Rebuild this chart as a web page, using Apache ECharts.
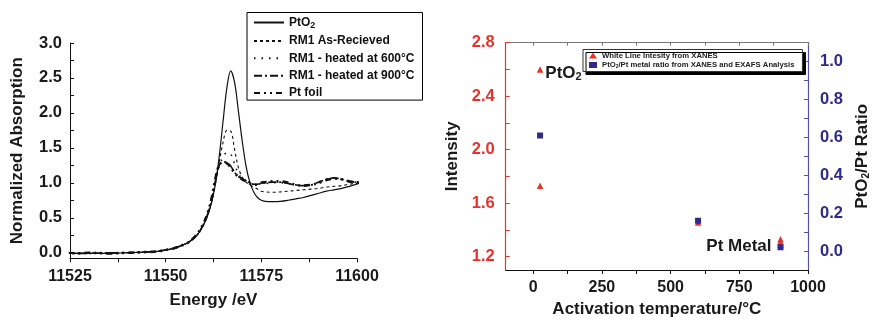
<!DOCTYPE html>
<html>
<head>
<meta charset="utf-8">
<script src="https://cdn.jsdelivr.net/npm/echarts@6/dist/echarts.min.js"></script>
<style>
  html, body { margin: 0; padding: 0; background: #fff; }
  #chart { width: 872px; height: 323px; }
</style>
</head>
<body>
<div id="chart"></div>
<script>
// ---- XANES spectra (left panel) ----
const energy = [11523, 11527, 11530, 11535, 11540, 11545, 11548, 11550, 11552, 11554, 11556, 11558, 11559, 11560, 11561, 11562, 11563, 11564, 11565, 11566, 11567, 11568, 11569, 11570, 11571, 11572, 11573, 11574, 11575, 11576, 11578, 11580, 11582, 11584, 11586, 11588, 11590, 11592, 11594, 11596, 11598, 11601];

const ptO2 = [0.00, -0.01, -0.01, -0.01, 0.00, 0.01, 0.02, 0.04, 0.06, 0.10, 0.15, 0.24, 0.31, 0.41, 0.54, 0.72, 0.98, 1.38, 1.88, 2.36, 2.60, 2.44, 2.03, 1.60, 1.24, 1.01, 0.87, 0.79, 0.75, 0.735, 0.73, 0.735, 0.75, 0.77, 0.79, 0.82, 0.85, 0.88, 0.90, 0.92, 0.95, 1.00];
const rm1Received = [0.00, -0.01, -0.01, -0.01, 0.00, 0.01, 0.02, 0.04, 0.06, 0.10, 0.15, 0.24, 0.31, 0.41, 0.54, 0.72, 0.99, 1.30, 1.58, 1.75, 1.74, 1.48, 1.22, 1.08, 1.01, 0.97, 0.94, 0.91, 0.88, 0.87, 0.865, 0.87, 0.88, 0.89, 0.90, 0.91, 0.92, 0.94, 0.95, 0.96, 0.98, 1.00];
const rm1At600 = [0.00, -0.01, 0.00, -0.01, 0.00, 0.01, 0.02, 0.04, 0.06, 0.10, 0.15, 0.24, 0.31, 0.41, 0.55, 0.74, 1.00, 1.24, 1.37, 1.43, 1.41, 1.27, 1.13, 1.06, 1.03, 1.00, 0.98, 0.98, 0.99, 0.99, 1.00, 1.00, 0.99, 0.97, 0.96, 0.97, 1.00, 1.05, 1.07, 1.05, 1.02, 1.00];
const rm1At900 = [0.00, -0.01, -0.01, 0.00, 0.00, 0.01, 0.02, 0.04, 0.06, 0.10, 0.15, 0.24, 0.32, 0.42, 0.56, 0.76, 1.03, 1.25, 1.30, 1.29, 1.24, 1.15, 1.09, 1.06, 1.03, 1.00, 0.98, 0.98, 0.99, 1.00, 1.01, 1.01, 0.99, 0.97, 0.96, 0.97, 1.01, 1.05, 1.07, 1.05, 1.02, 1.00];
const ptFoil = [0.01, -0.01, 0.00, -0.01, 0.00, 0.01, 0.02, 0.04, 0.06, 0.10, 0.15, 0.25, 0.33, 0.43, 0.57, 0.78, 1.06, 1.26, 1.29, 1.28, 1.22, 1.14, 1.09, 1.05, 1.02, 0.99, 0.97, 0.98, 1.00, 1.01, 1.02, 1.02, 1.00, 0.97, 0.96, 0.97, 1.00, 1.04, 1.06, 1.05, 1.02, 1.00];

const energyTicks = [11525, 11537.5, 11550, 11562.5, 11575, 11587.5, 11600];
const energyLabels = [11525, 11550, 11575, 11600];
const absTicks = [0, 0.25, 0.5, 0.75, 1.0, 1.25, 1.5, 1.75, 2.0, 2.25, 2.5, 2.75, 3.0];
const absLabels = [0, 0.5, 1.0, 1.5, 2.0, 2.5, 3.0];

// ---- Activation series (right panel) ----
const tempIntensity = [25, 25, 600, 900, 900, 900];
const whiteLine = [2.60, 1.73, 1.455, 1.33, 1.31, 1.29];
const tempRatio = [25, 600, 900];
const oxideRatio = [0.61, 0.16, 0.02];

const tempTicks = [0, 125, 250, 375, 500, 625, 750, 875, 1000];
const tempLabels = [0, 250, 500, 750, 1000];
const intensityTicks = [1.2, 1.4, 1.6, 1.8, 2.0, 2.2, 2.4, 2.6, 2.8];
const intensityLabels = [1.2, 1.6, 2.0, 2.4, 2.8];
const ratioTicks = [0, 0.1, 0.2, 0.3, 0.4, 0.5, 0.6, 0.7, 0.8, 0.9, 1.0];
const ratioLabels = [0, 0.2, 0.4, 0.6, 0.8, 1.0];

const RED = '#e5322b';
const BLUE = '#2f2a8c';
const INK = '#1a1a1a';
const FONT = 'Liberation Sans, Arial, sans-serif';

const pair = (xs, ys) => xs.map((x, i) => [x, ys[i]]);

const spectrumNames = ['PtO2', 'RM1 As-Recieved', 'RM1 - heated at 600°C', 'RM1 - heated at 900°C', 'Pt foil'];
const spectrumData = [ptO2, rm1Received, rm1At600, rm1At900, ptFoil];
const spectrumStyles = [
  { width: 1.2, type: 'solid' },
  { width: 1.1, type: [3, 3] },
  { width: 1.6, type: [1.5, 6] },
  { width: 1.6, type: [8, 3, 2, 3] },
  { width: 2.6, type: [6, 4, 2, 4, 2, 4] }
];

const chart = echarts.init(document.getElementById('chart'), null, { renderer: 'canvas' });

const subRich = {
  sub: { fontSize: 9, fontWeight: 'bold', fontFamily: FONT, color: '#111', padding: [7, 0, 0, 0] }
};

chart.setOption({
  animation: false,
  backgroundColor: '#fff',
  textStyle: { fontFamily: FONT },
  grid: [
    { left: 70, top: 43, width: 287, height: 215.3 },
    { left: 505.7, top: 42.7, width: 303.6, height: 229.6 }
  ],
  legend: [
    {
      data: spectrumNames,
      orient: 'vertical',
      left: 247,
      top: 12.5,
      padding: [3, 8, 0, 6],
      itemGap: 3.4,
      itemWidth: 30,
      itemHeight: 12,
      borderColor: '#000',
      borderWidth: 1,
      backgroundColor: '#fff',
      itemStyle: { color: 'transparent', borderColor: 'transparent', borderWidth: 0, opacity: 0 },
      formatter: n => n === 'PtO2' ? 'PtO{sub|2}' : n,
      textStyle: {
        fontSize: 12, fontWeight: 'bold', color: '#111', fontFamily: FONT, lineHeight: 14,
        rich: subRich
      }
    },
    {
      data: ['White Line Intesity from XANES', 'PtO2/Pt metal ratio from XANES and EXAFS Analysis'],
      orient: 'vertical',
      left: 583,
      top: 49.5,
      padding: [2, 8, 2, 6],
      itemGap: 1.5,
      itemWidth: 8,
      itemHeight: 6,
      borderColor: '#333',
      borderWidth: 1,
      backgroundColor: '#fff',
      shadowColor: '#000',
      shadowBlur: 0,
      shadowOffsetX: 3,
      shadowOffsetY: 3,
      formatter: n => n.startsWith('PtO2') ? 'PtO{s|2}' + n.slice(4) : n,
      textStyle: {
        fontSize: 7.7, fontWeight: 'bold', color: '#222', fontFamily: FONT, lineHeight: 8,
        rich: { s: { fontSize: 5, fontWeight: 'bold', color: '#222', padding: [4, 0, 0, 0] } }
      }
    }
  ],
  xAxis: [
    {
      type: 'value', gridIndex: 0, min: 11525, max: 11600,
      axisLine: { show: true, onZero: false, lineStyle: { color: '#111', width: 1 } },
      axisTick: { show: true, inside: false, length: 4, customValues: energyTicks, lineStyle: { color: '#111' } },
      axisLabel: { customValues: energyLabels, formatter: v => String(v), fontSize: 16, fontWeight: 'bold', color: INK, margin: 10 },
      splitLine: { show: false },
      name: 'Energy /eV', nameLocation: 'middle', nameGap: 34,
      nameTextStyle: { fontSize: 17, fontWeight: 'bold', color: INK }
    },
    {
      type: 'value', gridIndex: 1, min: -100, max: 1000, position: 'bottom',
      axisLine: { show: true, onZero: false, lineStyle: { color: '#111', width: 1 } },
      axisTick: { show: true, inside: false, length: 4, customValues: tempTicks, lineStyle: { color: '#111' } },
      axisLabel: { customValues: tempLabels, formatter: v => String(v), fontSize: 16, fontWeight: 'bold', color: INK, margin: 10 },
      splitLine: { show: false },
      name: 'Activation temperature/°C', nameLocation: 'middle', nameGap: 31,
      nameTextStyle: { fontSize: 17, fontWeight: 'bold', color: INK }
    },
    {
      type: 'value', gridIndex: 1, min: -100, max: 1000, position: 'top',
      axisLine: { show: true, onZero: false, lineStyle: { color: '#777', width: 1 } },
      axisTick: { show: true, inside: true, length: 3, customValues: tempTicks, lineStyle: { color: '#777' } },
      axisLabel: { show: false },
      splitLine: { show: false }
    }
  ],
  yAxis: [
    {
      type: 'value', gridIndex: 0, min: -0.08, max: 3.0,
      axisLine: { show: true, onZero: false, lineStyle: { color: '#111', width: 1 } },
      axisTick: { show: true, inside: true, length: 4, customValues: absTicks, lineStyle: { color: '#111' } },
      axisLabel: { customValues: absLabels, formatter: v => v.toFixed(1), fontSize: 16.5, fontWeight: 'bold', color: INK, margin: 8 },
      splitLine: { show: false },
      name: 'Normalized Absorption', nameLocation: 'middle', nameGap: 44,
      nameTextStyle: { fontSize: 17, fontWeight: 'bold', color: INK }
    },
    {
      type: 'value', gridIndex: 1, min: 1.1, max: 2.8, position: 'left',
      axisLine: { show: true, onZero: false, lineStyle: { color: RED, width: 1.2 } },
      axisTick: { show: true, inside: true, length: 4, customValues: intensityTicks, lineStyle: { color: RED } },
      axisLabel: { customValues: intensityLabels, formatter: v => v.toFixed(1), fontSize: 16.5, fontWeight: 'bold', color: RED, margin: 11 },
      splitLine: { show: false },
      name: 'Intensity', nameLocation: 'middle', nameGap: 45,
      nameTextStyle: { fontSize: 17, fontWeight: 'bold', color: INK }
    },
    {
      type: 'value', gridIndex: 1, min: -0.1, max: 1.1, position: 'right',
      axisLine: { show: true, onZero: false, lineStyle: { color: '#5650a3', width: 1.2 } },
      axisTick: { show: true, inside: true, length: 4, customValues: ratioTicks, lineStyle: { color: '#5650a3' } },
      axisLabel: { customValues: ratioLabels, formatter: v => v.toFixed(1), fontSize: 16.5, fontWeight: 'bold', color: BLUE, margin: 12 },
      splitLine: { show: false },
      name: 'PtO{s|2}/Pt Ratio', nameLocation: 'middle', nameGap: 45,
      nameTextStyle: {
        fontSize: 17, fontWeight: 'bold', color: INK,
        rich: { s: { fontSize: 10, fontWeight: 'bold', color: INK, padding: [8, 0, 0, 0] } }
      }
    }
  ],
  series: spectrumNames.map((name, k) => ({
    name,
    type: 'line',
    xAxisIndex: 0,
    yAxisIndex: 0,
    data: pair(energy, spectrumData[k]),
    symbol: 'none',
    showSymbol: false,
    smooth: 0.35,
    clip: false,
    lineStyle: { color: '#111', width: spectrumStyles[k].width, type: spectrumStyles[k].type },
    itemStyle: { color: '#111' }
  })).concat([
    {
      name: 'White Line Intesity from XANES',
      type: 'scatter',
      xAxisIndex: 1,
      yAxisIndex: 1,
      symbol: 'triangle',
      symbolSize: 6.5,
      itemStyle: { color: RED, opacity: 1 },
      data: pair(tempIntensity, whiteLine).map((p, i) => i === 0 ? {
        value: p,
        label: {
          show: true, position: 'right', distance: 2, offset: [0, 4],
          formatter: 'PtO{sub|2}',
          fontSize: 17, fontWeight: 'bold', color: INK,
          rich: { sub: { fontSize: 11, fontWeight: 'bold', color: INK, padding: [8, 0, 0, 0] } }
        }
      } : p)
    },
    {
      name: 'PtO2/Pt metal ratio from XANES and EXAFS Analysis',
      type: 'scatter',
      xAxisIndex: 1,
      yAxisIndex: 2,
      symbol: 'rect',
      symbolSize: 6,
      itemStyle: { color: BLUE, opacity: 1 },
      data: pair(tempRatio, oxideRatio).map((p, i) => i === 2 ? {
        value: p,
        label: {
          show: true, position: 'left', distance: 6, offset: [0, -1],
          formatter: 'Pt Metal',
          fontSize: 17, fontWeight: 'bold', color: INK
        }
      } : p)
    }
  ])
});
</script>
</body>
</html>
